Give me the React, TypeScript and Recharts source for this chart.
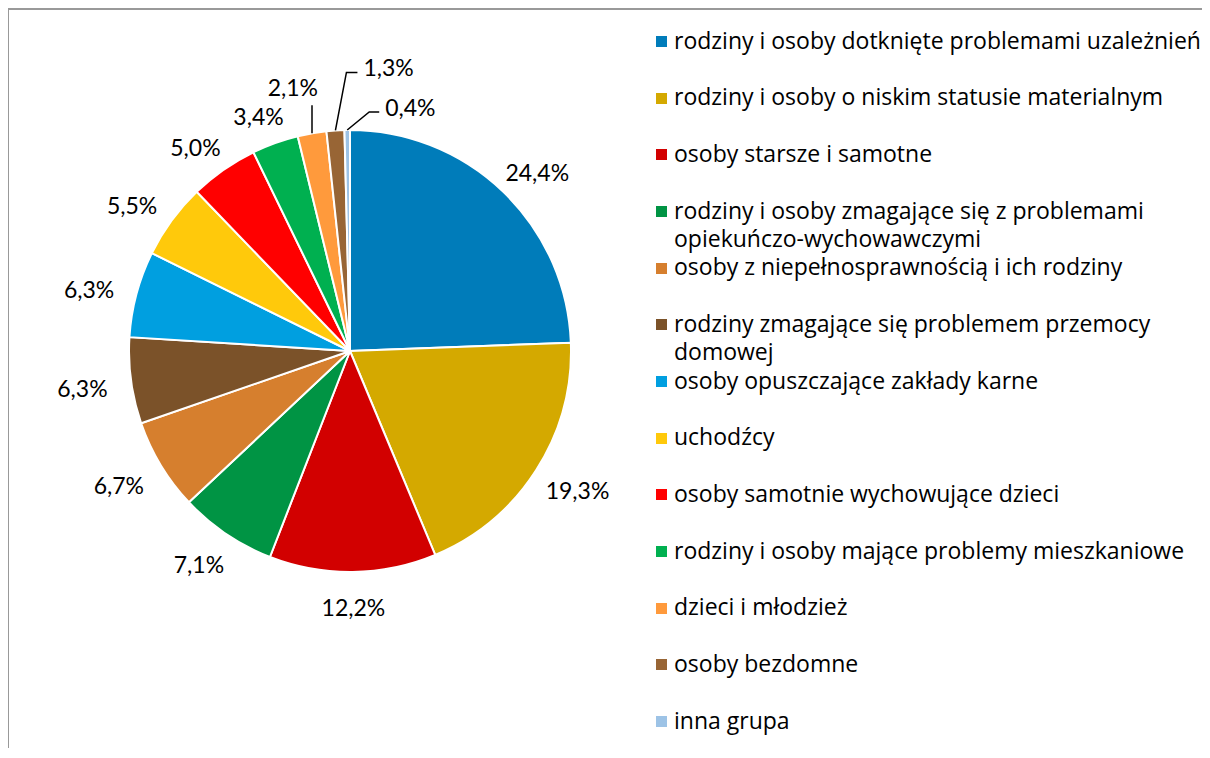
import React from 'react';
import { PieChart, Pie, Cell, Legend } from 'recharts';

const groups = [
  'rodziny i osoby dotknięte problemami uzależnień',
  'rodziny i osoby o niskim statusie materialnym',
  'osoby starsze i samotne',
  'rodziny i osoby zmagające się z problemami\nopiekuńczo-wychowawczymi',
  'osoby z niepełnosprawnością i ich rodziny',
  'rodziny zmagające się problemem przemocy\ndomowej',
  'osoby opuszczające zakłady karne',
  'uchodźcy',
  'osoby samotnie wychowujące dzieci',
  'rodziny i osoby mające problemy mieszkaniowe',
  'dzieci i młodzież',
  'osoby bezdomne',
  'inna grupa',
];

const shares = [24.4, 19.3, 12.2, 7.1, 6.7, 6.3, 6.3, 5.5, 5.0, 3.4, 2.1, 1.3, 0.4];

const colors = [
  '#007CBA', '#D4A900', '#D20000', '#009444', '#D67F2E', '#7B5229', '#009FE0',
  '#FFC90B', '#FF0000', '#00B050', '#FF9A3C', '#986535', '#9DC3E6',
];

const data = groups.map((name, i) => ({ name, value: shares[i] }));

const LABEL_FONT = 'Lato, "Open Sans", sans-serif';
const LEGEND_FONT = '"Open Sans", "Noto Sans", sans-serif';
const RAD = Math.PI / 180;

// leader lines for the thin slices at the top: elbow offset from the edge, horizontal run
const leaders: Record<number, { ex: number; ey: number; run: number; anchor: 'start' | 'end'; lx: number; ly: number }> = {
  10: { ex: 0, ey: -28, run: 0, anchor: 'end', lx: 6, ly: -18 },
  11: { ex: 11, ey: -58, run: 11, anchor: 'start', lx: 6, ly: -5 },
  12: { ex: 22, ey: -18, run: 10, anchor: 'start', lx: 6, ly: -5 },
};

const fmt = (v: number) => v.toFixed(1).replace('.', ',') + '%';

const renderLabel = (props: any) => {
  const { cx, cy, midAngle, outerRadius, index, value } = props;
  const c = Math.cos(midAngle * RAD);
  const s = Math.sin(midAngle * RAD);
  const lead = leaders[index];
  if (lead) {
    const x0 = cx + outerRadius * c;
    const y0 = cy - outerRadius * s;
    const x1 = x0 + lead.ex;
    const y1 = y0 + lead.ey;
    const x2 = x1 + lead.run;
    return (
      <g key={'l' + index}>
        <polyline points={`${x0},${y0} ${x1},${y1} ${x2},${y1}`} fill="none" stroke="#000" strokeWidth={1.5} />
        <text x={x2 + lead.lx} y={y1 + lead.ly} textAnchor={lead.anchor}
          dominantBaseline="central" fontFamily={LABEL_FONT} fontSize={23} fill="#000">
          {fmt(value)}
        </text>
      </g>
    );
  }
  const R = outerRadius + 21;
  const x = cx + R * c + c * 28;
  const y = cy - R * s - s * 11 + 3;
  return (
    <text key={'l' + index} x={x} y={y} textAnchor="middle" dominantBaseline="central"
      fontFamily={LABEL_FONT} fontSize={23} fill="#000">
      {fmt(value)}
    </text>
  );
};

const renderLegend = () => (
  <div style={{ position: 'relative', width: 560, height: 730 }}>
    {groups.map((g, i) => (
      <div key={g} style={{ position: 'absolute', left: 0, top: 17.5 + i * 56.67, display: 'flex', alignItems: 'flex-start' }}>
        <span style={{ width: 11, height: 11, background: colors[i], marginTop: 10.5, marginRight: 7, flex: 'none' }} />
        <span style={{ whiteSpace: 'pre', fontFamily: LEGEND_FONT, fontSize: 23, lineHeight: '28px', color: '#000' }}>{g}</span>
      </div>
    ))}
  </div>
);

export default function App() {
  return (
    <div style={{ position: 'relative', width: 1202, height: 740, overflow: 'hidden' }}>
      <div style={{ position: 'absolute', left: -1, top: 0, width: 1300, height: 800, borderTop: '2px solid #999', borderLeft: '2px solid #999', pointerEvents: 'none' }} />
      <PieChart width={1202} height={740}>
        <Pie
          data={data}
          dataKey="value"
          nameKey="name"
          cx={337}
          cy={338}
          outerRadius={221}
          startAngle={90}
          endAngle={-270}
          stroke="#fff"
          strokeWidth={2}
          label={renderLabel}
          labelLine={false}
          isAnimationActive={false}
        >
          {data.map((d, i) => (
            <Cell key={d.name} fill={colors[i]} />
          ))}
        </Pie>
        <Legend
          content={renderLegend}
          wrapperStyle={{ position: 'absolute', left: 648, top: 0, width: 560, height: 730 }}
        />
      </PieChart>
    </div>
  );
}
